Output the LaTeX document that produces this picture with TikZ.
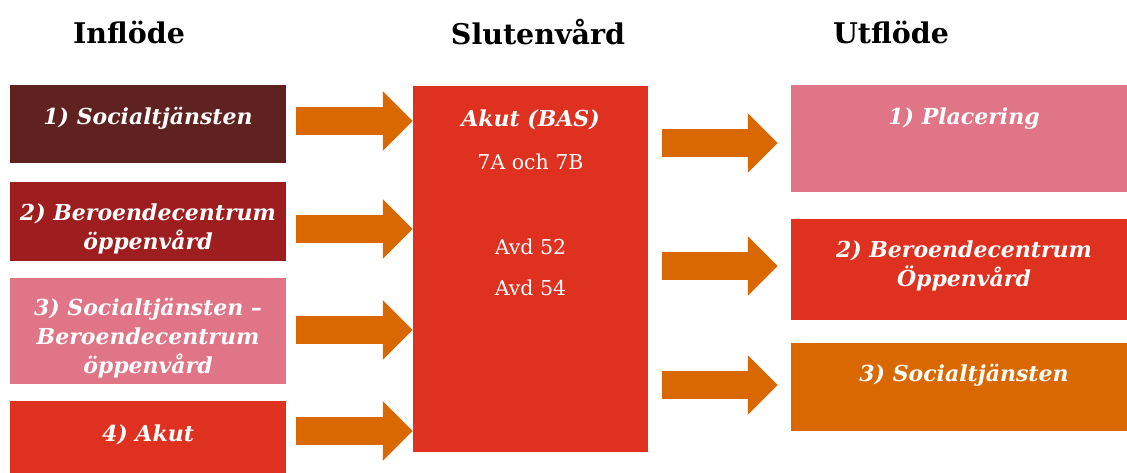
\documentclass[tikz,border=0pt]{standalone}
\usepackage{fontspec}
\setmainfont{DejaVu Serif}
\usetikzlibrary{arrows.meta,positioning}
\definecolor{socbrown}{RGB}{96,34,32}
\definecolor{berred}{RGB}{158,30,32}
\definecolor{rosa}{RGB}{224,117,135}
\definecolor{akutred}{RGB}{222,49,32}
\definecolor{pilorange}{RGB}{217,104,0}
\tikzset{
  box/.style={rectangle, inner sep=0pt, minimum width=276pt},
  utbox/.style={rectangle, inner sep=0pt, minimum width=346pt},
  boxtext/.style={text=white, align=center, font=\fontsize{22}{29}\selectfont\bfseries\itshape},
  midtext/.style={text=white, font=\fontsize{20.5}{24}\selectfont},
  head/.style={font=\fontsize{28.5}{32}\selectfont\bfseries},
  bigarrow/.style={draw=pilorange, line width=28pt, -{Triangle[length=30pt,width=58pt]}}
}
\begin{document}
\begin{tikzpicture}[x=1pt,y=-1pt]
\path[use as bounding box, clip] (0,0) rectangle (1127,472);

%Rubriker
\node[head] (hin) at (129,32) {Inflöde};
\node[head] (hslut) at (538,32) {Slutenvård};
\node[head] (hut) at (891,32) {Utflöde};

%Inflöde
\node[box, fill=socbrown, minimum height=78pt] (in1) at (148,124) {};
\node[box, fill=berred, minimum height=79pt] (in2) at (148,221.5) {};
\node[box, fill=rosa, minimum height=106pt] (in3) at (148,331) {};
\node[box, fill=akutred, minimum height=79pt] (in4) at (148,440.5) {};

\node[boxtext, yshift=6pt] at (in1) {1) Socialtjänsten};
\node[boxtext, yshift=-7pt] at (in2) {2) Beroendecentrum\\öppenvård};
\node[boxtext, yshift=-7pt] at (in3) {3) Socialtjänsten --\\Beroendecentrum\\öppenvård};
\node[boxtext, yshift=6pt] at (in4) {4) Akut};

%Slutenvård
\node[rectangle, inner sep=0pt, fill=akutred, minimum width=235pt, minimum height=366pt] (mid) at (530.5,269) {};
\node[boxtext] (bas) at (mid.north |- 0,120) {Akut (BAS)};
\node[midtext] (avd7) at (mid.north |- 0,162) {7A och 7B};
\node[midtext] (avd52) at (mid.north |- 0,247) {Avd 52};
\node[midtext] (avd54) at (mid.north |- 0,288) {Avd 54};

%Utflöde
\node[utbox, fill=rosa, minimum height=107pt] (ut1) at (964,138.5) {};
\node[utbox, fill=akutred, minimum height=101pt] (ut2) at (964,269.5) {};
\node[utbox, fill=pilorange, minimum height=88pt] (ut3) at (964,387) {};

\node[boxtext, yshift=20pt] at (ut1) {1) Placering};
\node[boxtext, yshift=4pt] at (ut2) {2) Beroendecentrum\\Öppenvård};
\node[boxtext, yshift=12pt] at (ut3) {3) Socialtjänsten};

%Pilar
\foreach \a/\y in {in1/121, in2/229, in3/330, in4/431}
	\draw[bigarrow, shorten <=10pt] (\a.east |- 0,\y) -- (mid.west |- 0,\y);
\foreach \b/\y in {ut1/143, ut2/266, ut3/385}
	\draw[bigarrow, shorten <=14pt, shorten >=13pt] (mid.east |- 0,\y) -- (\b.west |- 0,\y);
\end{tikzpicture}
\end{document}
